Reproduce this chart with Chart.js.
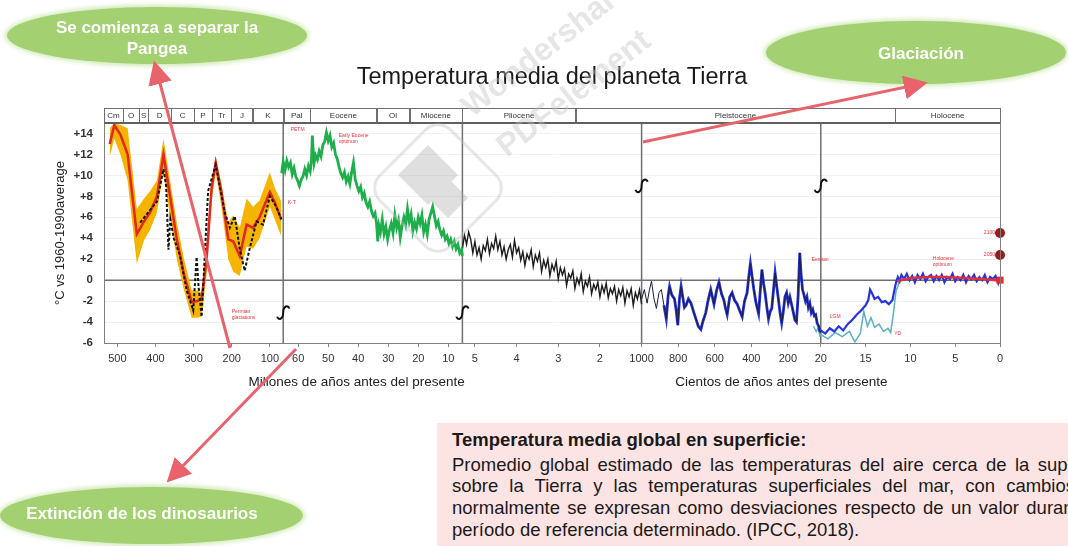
<!DOCTYPE html>
<html lang="es">
<head>
<meta charset="UTF-8">
<title>Temperatura media del planeta Tierra</title>
<script src="https://cdn.jsdelivr.net/npm/chart.js"></script>
<style>
  body { margin: 0; width: 1068px; height: 546px; overflow: hidden; background: #fff; position: relative;
         font-family: "Liberation Sans", Arial, sans-serif; }
  #chart { position: absolute; left: 0; top: 0; }
  .bubble { position: absolute; background: #a3d070; border-radius: 50%; box-shadow: 0 0 5px 2px #cfe8b4; }
  .btext { position: absolute; color: #fff; font-weight: bold; font-size: 17px; text-align: center; }
  #title { position: absolute; left: 0; width: 1104px; top: 64px; text-align: center; font-size: 23.5px; line-height: 24px; color: #1a1a1a; }
  #def { position: absolute; left: 437px; top: 423px; width: 631px; height: 123px; background: #fde4e4; overflow: hidden; }
  #def .inner { position: absolute; left: 15px; top: 6px; width: 665px; font-size: 18.5px; line-height: 21.7px; color: #1a1a1a; }
  #def .j { text-align: justify; text-align-last: justify; white-space: nowrap; }
  #overlay { position: absolute; left: 0; top: 0; pointer-events: none; }
</style>
</head>
<body>
<canvas id="chart" width="1068" height="546"></canvas>

<div id="title">Temperatura media del planeta Tierra</div>

<div class="bubble" style="left:7px;top:7px;width:300px;height:57px"></div>
<div class="btext" style="left:7px;top:17px;width:300px;line-height:21px">Se comienza a separar la<br>Pangea</div>

<div class="bubble" style="left:766px;top:21px;width:300px;height:63px"></div>
<div class="btext" style="left:771px;top:44px;width:300px;line-height:20px">Glaciación</div>

<div class="bubble" style="left:0px;top:487px;width:303px;height:57px"></div>
<div class="btext" style="left:0px;top:504px;width:284px;line-height:20px">Extinción de los dinosaurios</div>

<div id="def">
  <div class="inner">
    <div style="font-weight:bold;margin-bottom:3px">Temperatura media global en superficie:</div>
    <div class="j">Promedio global estimado de las temperaturas del aire cerca de la superficie</div>
    <div class="j">sobre la Tierra y las temperaturas superficiales del mar, con cambios que</div>
    <div class="j">normalmente se expresan como desviaciones respecto de un valor durante un</div>
    <div>período de referencia determinado. (IPCC, 2018).</div>
  </div>
</div>

<svg id="overlay" width="1068" height="546">
  <defs>
    <marker id="head" markerWidth="8" markerHeight="8" refX="4" refY="4" orient="auto">
      <path d="M0,0 L8,4 L0,8 z" fill="#e8636b"/>
    </marker>
  </defs>
  <!-- marca de agua -->
  <g opacity="0.4">
    <rect x="388" y="138" width="100" height="100" rx="18" transform="rotate(45 438 188)" fill="none" stroke="#c0c0c0" stroke-width="3"/>
    <polygon points="428,145 458,175 428,205 398,175" fill="#b0b0b0"/>
    <polygon points="448,178 468,198 448,218 428,198" fill="#b0b0b0"/>
    <text x="472" y="118" transform="rotate(-38 472 118)" font-size="32" font-weight="bold" fill="#c0c0c0">Wondershare</text>
    <text x="507" y="158" transform="rotate(-38 507 158)" font-size="32" font-weight="bold" fill="#c0c0c0">PDFelement</text>
  </g>
  <!-- flechas -->
  <g stroke="#e8636b" stroke-width="3" fill="none">
    <line x1="230" y1="348" x2="157" y2="72" marker-end="url(#head)"/>
    <line x1="296" y1="349" x2="175" y2="474" marker-end="url(#head)"/>
    <line x1="643" y1="142" x2="916" y2="85" marker-end="url(#head)"/>
  </g>
</svg>

<script>
// Eje X partido en cinco tramos: [edad inicial, edad final]
const panelRanges = [[535, 65], [65, 5.3], [5.3, 1], [1000, 20], [20, 0]];
const tickSets = [[500, 400, 300, 200, 100], [60, 50, 40, 30, 20, 10], [5, 4, 3, 2], [1000, 800, 600, 400, 200, 20], [15, 10, 5, 0]];
const yTickVals = [-6, -4, -2, 0, 2, 4, 6, 8, 10, 12, 14];

// Periodos geológicos (cabecera)
const eraNames = ['Cm', 'O', 'S', 'D', 'C', 'P', 'Tr', 'J', 'K', 'Pal', 'Eocene', 'Ol', 'Miocene', 'Pliocene', 'Pleistocene', 'Holocene'];
const eraEdges = [[0, 535], [0, 485], [0, 443], [0, 419], [0, 359], [0, 299], [0, 252], [0, 201], [0, 145], [0, 65],
                  [1, 56], [1, 33.9], [1, 23], [1, 5.3], [2, 2.58], [4, 11.7], [4, 0]];

// Paleozoico y Mesozoico (millones de años)
const paleoAges = [520, 508, 492, 473, 449, 430, 414, 396, 379, 366, 344, 325, 305, 290, 279, 266, 253, 242, 227, 209, 196, 179, 161, 144, 127, 100, 87, 70];
const paleoRed  = [13.0, 14.8, 13.9, 12.0, 4.4, 5.6, 6.5, 8.0, 12.0, 9.0, 3.9, 0.5, -2.1, -2.0, -1.8, 2.0, 8.7, 11.2, 8.4, 3.9, 3.7, 2.3, 5.3, 5.0, 6.0, 8.4, 7.4, 5.8];
const paleoHigh = [14.5, 15.0, 14.8, 14.5, 6.8, 7.8, 8.5, 9.5, 13.5, 10.5, 5.5, 2.0, -1.0, -1.0, -1.2, 3.5, 9.5, 11.8, 9.2, 5.5, 6.2, 5.0, 7.8, 7.0, 7.6, 10.3, 8.8, 7.5];
const paleoLow  = [11.8, 13.5, 12.0, 9.5, 1.6, 3.8, 4.8, 6.5, 10.3, 7.0, 2.0, -1.0, -3.6, -3.6, -3.5, 0.5, 7.5, 10.2, 7.0, 2.0, 0.8, 0.4, 3.2, 3.0, 4.0, 7.0, 5.8, 4.2];
const dashAges = [440, 414, 396, 379, 372, 366, 361, 352, 336, 318, 301, 292, 287, 279, 262, 242, 218, 205, 192, 179, 166, 153, 135, 118, 100, 83, 70];
const dashVals = [5.5, 6.7, 7.5, 10.6, 9.0, 2.9, 5.8, 4.0, 2.4, -1.0, -2.9, 2.2, -0.6, -3.5, 8.5, 11.0, 6.4, 5.0, 6.1, 3.0, 0.9, 3.0, 5.6, 5.3, 8.0, 7.0, 5.8];

// Cenozoico (65 - 5.3 Ma)
const cenoAges = [65.5, 65, 64.4, 63.8, 63.2, 62.6, 62, 61.4, 60.8, 60.2, 59.6, 59, 58.4, 57.8, 57.2, 56.6, 56, 55.6, 55.3, 55.0,
  54.7, 54.2, 53.6, 53, 52.4, 51.8, 51.2, 50.6, 50, 49.4, 48.8, 48.2, 47.6, 47, 46.4, 45.8, 45.2, 44.6, 44, 43.4,
  42.8, 42.2, 41.6, 41, 40.4, 39.8, 39.2, 38.6, 38, 37.4, 36.8, 36.2, 35.6, 35, 34.4, 33.9, 33.5, 33.1, 32.6, 32,
  31.4, 30.8, 30.2, 29.6, 29, 28.4, 27.8, 27.2, 26.6, 26, 25.4, 24.8, 24.2, 23.6, 23, 22.4, 21.8, 21.2, 20.6, 20,
  19.4, 18.8, 18.2, 17.6, 17, 16.4, 15.8, 15.2, 14.6, 14, 13.4, 12.8, 12.2, 11.6, 11, 10.4, 9.8, 9.2, 8.6, 8,
  7.4, 6.8, 6.2, 5.6, 5.3];
const cenoVals = [10.2, 11.3, 10.5, 11.4, 10.8, 11.2, 10.1, 10.7, 9.9, 9.5, 9.0, 9.6, 9.9, 10.6, 10.0, 10.9, 10.4, 11.3, 13.8, 12.4,
  11.2, 11.9, 11.5, 12.3, 11.8, 12.9, 13.2, 14.1, 13.3, 13.8, 12.7, 13.1, 12.0, 11.6, 10.8, 10.2, 9.8, 10.3, 9.4, 9.9,
  9.2, 10.3, 11.2, 9.6, 9.0, 8.5, 8.9, 7.9, 8.3, 7.4, 7.0, 7.5, 6.6, 6.1, 6.4, 5.4, 3.7, 5.2, 4.6, 5.8,
  4.4, 5.1, 3.9, 4.8, 5.4, 4.5, 6.2, 5.0, 5.7, 4.1, 5.2, 6.0, 5.3, 6.8, 5.6, 6.3, 4.7, 5.5, 4.9, 6.0,
  5.4, 6.2, 4.6, 5.3, 4.4, 5.8, 6.4, 7.0, 6.1, 5.2, 5.6, 4.8, 4.3, 4.7, 3.9, 4.2, 3.5, 3.9, 3.2, 3.7,
  3.0, 3.4, 2.6, 2.9, 2.3];

// Plioceno (5.3 - 1 Ma)
const plioAges = [5.30, 5.25, 5.20, 5.15, 5.10, 5.05, 5.00, 4.95, 4.90, 4.85,
  4.80, 4.75, 4.70, 4.65, 4.60, 4.55, 4.50, 4.45, 4.40, 4.35,
  4.30, 4.25, 4.20, 4.15, 4.10, 4.05, 4.00, 3.95, 3.90, 3.85,
  3.80, 3.75, 3.70, 3.65, 3.60, 3.55, 3.50, 3.45, 3.40, 3.35,
  3.30, 3.25, 3.20, 3.15, 3.10, 3.05, 3.00, 2.95, 2.90, 2.85,
  2.80, 2.75, 2.70, 2.65, 2.60, 2.55, 2.50, 2.45, 2.40, 2.35,
  2.30, 2.25, 2.20, 2.15, 2.10, 2.05, 2.00, 1.95, 1.90, 1.85,
  1.80, 1.75, 1.70, 1.65, 1.60, 1.55, 1.50, 1.45, 1.40, 1.35,
  1.30, 1.25, 1.20, 1.15, 1.10, 1.05, 1.00];
const plioVals = [3.0, 4.3, 3.4, 4.6, 3.9, 2.6, 3.7, 2.4, 3.1, 2.0,
  3.3, 2.8, 3.9, 2.5, 3.5, 3.0, 4.2, 2.9, 3.7, 2.4,
  3.2, 2.0, 2.9, 3.4, 2.2, 3.8, 2.6, 3.1, 1.9, 2.7,
  1.4, 2.5, 2.0, 2.9, 1.3, 2.4, 1.8, 2.6, 0.8, 1.9,
  1.2, 2.0, 0.4, 1.5, 0.9, 1.8, 0.1, 1.2, 0.5, 1.1,
  -0.5, 0.6, 0.2, 0.9, -0.8, 0.2, -0.4, 0.6, -1.1, -0.1,
  -0.6, 0.3, -1.3, -0.4, -0.9, -0.2, -1.6, -0.5, -1.2, -0.3,
  -1.7, -0.8, -1.3, -0.6, -2.0, -0.9, -1.5, -0.7, -2.2, -1.0,
  -1.6, -0.8, -2.4, -1.2, -1.8, -0.9, -2.3];

// Pleistoceno (cientos de años: 1000 - 20)
const pleistAges = [1000, 985, 970, 958, 946, 932, 919, 905, 892, 878, 865, 855, 847, 835, 820, 810, 802, 793, 784, 775,
  766, 757, 744, 730, 716, 703, 690, 676, 664, 649, 636, 622, 613, 604, 590, 577, 563, 550, 541, 532,
  518, 505, 492, 477, 464, 450, 437, 423, 414, 405, 396, 387, 375, 360, 351, 342, 333, 324, 315, 306,
  297, 288, 279, 270, 261, 252, 243, 234, 225, 216, 207, 198, 189, 180, 170, 162, 153, 144, 135, 128,
  120, 112, 104, 96, 88, 80, 72, 64, 56, 48, 40, 32, 26, 20];
const pleistVals = [-1.8, -0.9, -2.2, -1.0, -0.1, -1.8, -2.7, -1.2, -0.9, -2.4, -3.7, -1.5, -0.6, -1.4, -1.8, -3.0, -4.3, -1.8, -0.6, -1.6,
  -2.6, -2.4, -1.8, -2.2, -3.0, -3.7, -4.4, -4.7, -3.9, -3.1, -1.9, -0.9, -1.6, -2.3, -1.0, -0.2, -1.3, -1.9, -2.7, -3.3,
  -1.6, -1.2, -1.9, -2.3, -2.9, -3.5, -2.0, -1.2, 0.3, 1.6, 0.4, -0.8, -2.1, -3.2, -1.0, 1.0, -0.3, -1.3, -2.6, -3.7,
  -3.0, -2.7, -1.0, 0.7, -0.6, -1.8, -3.1, -4.1, -3.0, -1.6, -1.2, -2.2, -1.6, -2.3, -3.1, -3.8, -4.0, -1.5, 2.6, 0.6,
  -0.9, -1.4, -2.0, -1.6, -2.6, -2.2, -3.1, -2.8, -3.4, -3.3, -4.1, -4.4, -4.8, -5.0];
const lgmAgesA = [60, 45, 35, 25, 20];
const lgmValsA = [-4.4, -4.9, -4.6, -5.3, -5.2];

// Últimos 20 (cientos de años)
const holoAges = [20, 19.5, 19, 18.5, 18, 17.5, 17, 16.5, 16, 15.5, 15, 14.7, 14.5, 14.2, 14, 13.6, 13.2, 12.8, 12.4, 12.0,
  11.8, 11.6, 11.4, 11.2, 11.0, 10.7, 10.4, 10.1, 9.8, 9.5, 9.2, 8.9, 8.6, 8.3, 8.0, 7.7, 7.4, 7.1, 6.8, 6.5,
  6.2, 5.9, 5.6, 5.3, 5.0, 4.7, 4.4, 4.1, 3.8, 3.5, 3.2, 2.9, 2.6, 2.3, 2.0, 1.7, 1.4, 1.1, 0.8, 0.5, 0.2, 0.0];
const holoVals = [-4.8, -5.1, -4.6, -4.9, -4.4, -4.8, -4.2, -3.8, -3.3, -2.9, -2.4, -1.9, -0.9, -1.4, -1.8, -1.6, -2.1, -2.0, -2.3, -1.9,
  -1.0, -0.2, 0.3, -0.1, 0.5, 0.1, 0.6, 0.0, 0.4, -0.2, 0.5, 0.1, 0.6, -0.1, 0.3, 0.5, -0.1, 0.4, 0.0, 0.5,
  -0.2, 0.3, 0.1, 0.6, -0.1, 0.3, 0.0, 0.5, -0.2, 0.4, 0.1, 0.5, -0.1, 0.3, 0.0, 0.5, -0.2, 0.3, 0.1, 0.4, -0.3, 0.2];
const lgmAgesB = [20, 19.2, 18.4, 17.6, 16.8, 16.2, 15.6, 15.2, 14.8, 14.4, 14.0, 13.5, 13.0, 12.5, 12.2, 11.9, 11.6, 11.4, 11.2];
const lgmValsB = [-5.2, -5.6, -5.0, -5.4, -4.9, -5.9, -5.1, -3.0, -4.4, -3.6, -4.5, -4.2, -4.9, -4.6, -5.0, -3.2, -1.0, -0.6, 0.1];
const holoRedAges = [11.5, 10, 8, 6, 4, 2, 0.5, 0];
const holoRedVals = [-0.1, 0.2, 0.3, 0.3, 0.2, 0.1, 0.0, 0.1];

// Proyecciones
const projLabels = ['2050', '2100'];
const projVals = [2.4, 4.5];
const presentVal = 0;

function pos(panel, age) {
  const [a, b] = panelRanges[panel];
  return panel + (a - age) / (a - b);
}
function pts(panel, ages, vals) {
  return ages.map((a, i) => ({ x: pos(panel, a), y: vals[i] }));
}

const xTicks = [];
const xLabels = [];
tickSets.forEach((set, p) => set.forEach(t => { xTicks.push(pos(p, t)); xLabels.push(String(t)); }));

const blueAges = pleistAges.filter(a => a <= 880);
const blueVals = pleistVals.filter((v, i) => pleistAges[i] <= 880);

const line = (data, color, width, order, extra) => Object.assign({
  type: 'line', data, borderColor: color, borderWidth: width, pointRadius: 0, tension: 0, fill: false, order
}, extra || {});

const datasets = [
  line(pts(0, paleoAges, paleoHigh), 'rgba(0,0,0,0)', 0, 10, { fill: '+1', backgroundColor: '#f5b400' }),
  line(pts(0, paleoAges, paleoLow), 'rgba(0,0,0,0)', 0, 11),
  line(pts(0, paleoAges, paleoRed), '#e3261f', 2.5, 5),
  line(pts(0, dashAges, dashVals), '#111', 2, 4, { borderDash: [3, 2] }),
  line(pts(1, cenoAges, cenoVals), '#1fae4c', 2.8, 5),
  line(pts(2, plioAges, plioVals), '#1c1c1c', 1.4, 5),
  line(pts(3, blueAges, blueVals), '#2633d6', 2.8, 6),
  line(pts(3, pleistAges, pleistVals), '#1c1c40', 1, 5),
  line(pts(3, lgmAgesA, lgmValsA).concat(pts(4, lgmAgesB, lgmValsB)), '#5cb0c4', 1.5, 7),
  line(pts(4, holoAges, holoVals), '#2633e0', 2.2, 6),
  line(pts(4, holoRedAges, holoRedVals), '#e0303a', 2.5, 3),
  { type: 'scatter', data: projVals.map(v => ({ x: pos(4, 0), y: v })), pointRadius: 5, pointBackgroundColor: '#9b1b1b',
    pointBorderWidth: 0, clip: false, order: 1 },
  { type: 'scatter', data: [{ x: pos(4, 0), y: presentVal }], pointRadius: 5, pointStyle: 'rect', pointBackgroundColor: '#ff1f1f',
    pointBorderWidth: 0, clip: false, order: 1 }
];

const notes = [
  { t: ['PETM'], p: 1, a: 62.5, y: 14.4 },
  { t: ['K-T'], p: 1, a: 63.5, y: 7.4 },
  { t: ['Early Eocene', 'optimum'], p: 1, a: 46.5, y: 13.8 },
  { t: ['Permian', 'glaciations'], p: 0, a: 200, y: -3.0 },
  { t: ['Eemian'], p: 3, a: 70, y: 2.0 },
  { t: ['LGM'], p: 4, a: 19, y: -3.5 },
  { t: ['YD'], p: 4, a: 11.8, y: -5.1 },
  { t: ['Holocene', 'optimum'], p: 4, a: 7.5, y: 2.1 },
  { t: [projLabels[1]], p: 4, a: 1.8, y: projVals[1] },
  { t: [projLabels[0]], p: 4, a: 1.8, y: projVals[0] }
];
const squiggles = [[1, -3.1], [2, -3.1], [3, 9.0], [4, 9.0]];

const decor = {
  id: 'decor',
  beforeDatasetsDraw(chart) {
    const { ctx, chartArea: a, scales: { x, y } } = chart;
    ctx.save();
    ctx.strokeStyle = '#707070';
    ctx.lineWidth = 1.5;
    ctx.beginPath();
    const y0 = y.getPixelForValue(0);
    ctx.moveTo(a.left, y0); ctx.lineTo(a.right, y0);
    for (let i = 1; i < 5; i++) {
      const px = x.getPixelForValue(i);
      ctx.moveTo(px, a.top); ctx.lineTo(px, a.bottom);
    }
    ctx.stroke();
    ctx.restore();
  },
  afterDatasetsDraw(chart) {
    const { ctx, chartArea: a, scales: { x, y } } = chart;
    ctx.save();
    // marco
    ctx.strokeStyle = '#808080';
    ctx.lineWidth = 1;
    ctx.strokeRect(a.left + 0.5, a.top + 0.5, a.right - a.left, a.bottom - a.top);
    // cabecera de periodos
    const hTop = a.top - 15;
    ctx.fillStyle = '#fff';
    ctx.fillRect(a.left, hTop, a.right - a.left, 15);
    ctx.strokeStyle = '#707070';
    ctx.font = '8px "Liberation Sans", Arial, sans-serif';
    ctx.textAlign = 'center';
    ctx.textBaseline = 'middle';
    for (let i = 0; i < eraNames.length; i++) {
      const x1 = x.getPixelForValue(pos(eraEdges[i][0], eraEdges[i][1]));
      const x2 = x.getPixelForValue(pos(eraEdges[i + 1][0], eraEdges[i + 1][1]));
      ctx.strokeRect(Math.round(x1) + 0.5, hTop + 0.5, Math.round(x2 - x1), 14);
      ctx.fillStyle = '#333';
      ctx.fillText(eraNames[i], (x1 + x2) / 2, hTop + 8);
    }
    ctx.strokeStyle = '#606060';
    ctx.lineWidth = 2;
    ctx.beginPath();
    ctx.moveTo(a.left, a.top); ctx.lineTo(a.right, a.top);
    ctx.stroke();
    // cortes del eje
    ctx.strokeStyle = '#111';
    ctx.lineWidth = 2;
    squiggles.forEach(([b, v]) => {
      const px = x.getPixelForValue(b), py = y.getPixelForValue(v);
      ctx.beginPath();
      ctx.moveTo(px + 6, py - 4);
      ctx.bezierCurveTo(px + 5, py - 8, px, py - 7, px, py);
      ctx.bezierCurveTo(px, py + 7, px - 5, py + 8, px - 6, py + 4);
      ctx.stroke();
    });
    // notas en rojo
    ctx.fillStyle = '#e8323a';
    ctx.font = '5px "Liberation Sans", Arial, sans-serif';
    ctx.textAlign = 'left';
    notes.forEach(n => {
      const px = x.getPixelForValue(pos(n.p, n.a)), py = y.getPixelForValue(n.y);
      n.t.forEach((s, k) => ctx.fillText(s, px, py + k * 6));
    });
    ctx.restore();
  },
  afterDraw(chart) {
    const { ctx, chartArea: a, scales: { x } } = chart;
    ctx.save();
    ctx.fillStyle = '#222';
    ctx.font = '13.5px "Liberation Sans", Arial, sans-serif';
    ctx.textAlign = 'center';
    ctx.textBaseline = 'middle';
    ctx.fillText('Millones de años antes del presente', x.getPixelForValue(1.41), 382);
    ctx.fillText('Cientos de años antes del presente', x.getPixelForValue(3.78), 382);
    // título del eje Y
    ctx.translate(60, (a.top + a.bottom) / 2);
    ctx.rotate(-Math.PI / 2);
    ctx.font = '13px "Liberation Sans", Arial, sans-serif';
    ctx.fillText('°C vs 1960-1990average', 0, 0);
    ctx.restore();
  }
};

new Chart(document.getElementById('chart'), {
  data: { datasets },
  options: {
    responsive: false,
    animation: false,
    layout: { padding: { top: 123, right: 68, bottom: 157, left: 0 } },
    plugins: { legend: { display: false }, tooltip: { enabled: false } },
    scales: {
      x: {
        type: 'linear', min: 0, max: 5,
        afterFit: s => { s.height = 46; },
        afterBuildTicks: s => { s.ticks = xTicks.map(v => ({ value: v })); },
        grid: { drawOnChartArea: false, tickLength: 4, color: '#888' },
        border: { color: '#808080' },
        ticks: { autoSkip: false, maxRotation: 0, padding: 5, color: '#333',
                 font: { family: '"Liberation Sans", Arial, sans-serif', size: 11 },
                 callback: (v, i) => xLabels[i] }
      },
      y: {
        type: 'linear', min: -6, max: 15,
        afterFit: s => { s.width = 104; },
        afterBuildTicks: s => { s.ticks = yTickVals.map(v => ({ value: v })); },
        grid: { color: '#f1f1f1', drawTicks: false },
        border: { color: '#808080' },
        ticks: { autoSkip: false, padding: 11, color: '#333',
                 font: { family: '"Liberation Sans", Arial, sans-serif', size: 11.5, weight: 'bold' },
                 callback: v => (v > 0 ? '+' + v : String(v)) }
      }
    }
  },
  plugins: [decor]
});
</script>
</body>
</html>
